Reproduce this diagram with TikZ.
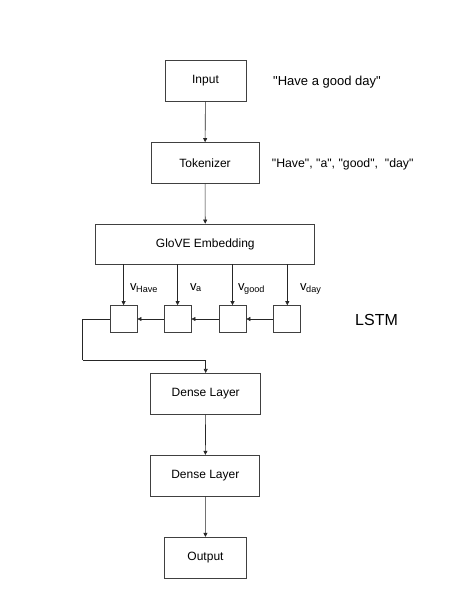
\documentclass[tikz,border=0pt]{standalone}
\usepackage{fontspec}
\setmainfont{Liberation Sans}[Ligatures=TeXOff]
\usetikzlibrary{arrows.meta}
\begin{document}
\begin{tikzpicture}[x=1pt,y=-1pt,
  box/.style={draw=black!75,line width=0.7pt,inner sep=0pt,minimum height=41pt,font=\fontsize{12}{14}\selectfont},
  cell/.style={draw=black!75,line width=0.7pt,inner sep=0pt,minimum width=27pt,minimum height=27pt},
  conn/.style={draw=black!85,line width=0.6pt,-{Triangle[length=4pt,width=4pt]}},
  wire/.style={draw=black!85,line width=0.6pt},
  note/.style={anchor=west,inner sep=0pt,font=\fontsize{12.3}{14}\selectfont},
  vlab/.style={anchor=base west,inner sep=0pt,font=\fontsize{13}{15}\selectfont}]
\useasboundingbox (0,0) rectangle (453,590);
\node[box,minimum width=81pt] (inp) at (205.5,80.8) {Input};
\node[box,minimum width=108pt] (tok) at (205,163) {Tokenizer};
\node[box,minimum width=219pt,minimum height=40pt] (emb) at (205.3,244) {GloVE Embedding};
\node[cell] (l1) at (123.6,319) {};
\node[cell] (l2) at (177.6,319) {};
\node[cell] (l3) at (232.5,319) {};
\node[cell] (l4) at (287.3,319) {};
\node[box,minimum width=110pt] (d1) at (205.7,393.8) {Dense Layer};
\node[box,minimum width=109pt] (d2) at (205.3,475.7) {Dense Layer};
\node[box,minimum width=82pt] (out) at (205.5,557.7) {Output};
\node[note,font=\fontsize{13}{15}\selectfont] (t1) at (273,81.7) {"Have a good day"};
\node[note] (t2) at (271.7,164) {"Have", "a", "good",~ "day"};
\node[vlab] (v1) at (130,290) {v\textsubscript{\kern-0.5pt Have}};
\node[vlab] (v2) at (190,290) {v\textsubscript{\kern-0.5pt a}};
\node[vlab] (v3) at (238,290) {v\textsubscript{\kern-0.5pt good}};
\node[vlab] (v4) at (300,290) {v\textsubscript{\kern-0.5pt day}};
\node[anchor=west,inner sep=0pt,font=\fontsize{16}{18}\selectfont] (lstm) at (355,320) {LSTM};
\coordinate (c1) at (82.5,360);
\draw[conn] (inp) -- (tok);
\draw[conn] (tok) -- (emb);
\foreach \i in {l1,l2,l3,l4} \draw[conn] (\i.north |- emb.south) -- (\i.north);
\draw[conn] (l4) -- (l3);
\draw[conn] (l3) -- (l2);
\draw[conn] (l2) -- (l1);
\draw[wire] (l1.west) -| (c1);
\draw[conn] (c1) -| (d1.north);
\draw[conn] (d1) -- (d2);
\draw[conn] (d2) -- (out);
\end{tikzpicture}
\end{document}
